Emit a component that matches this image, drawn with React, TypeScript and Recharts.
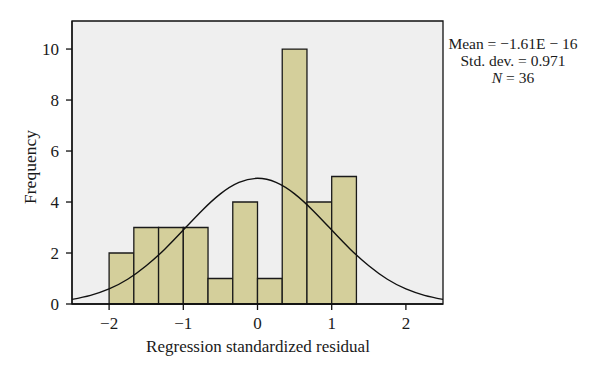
import React from "react";
import { ComposedChart, Line, XAxis, YAxis, CartesianGrid, ReferenceArea } from "recharts";

const binLeft = [-2, -1.6667, -1.3333, -1, -0.6667, -0.3333, 0, 0.3333, 0.6667, 1];
const binRight = [-1.6667, -1.3333, -1, -0.6667, -0.3333, 0, 0.3333, 0.6667, 1, 1.3333];
const frequencies = [2, 3, 3, 3, 1, 4, 1, 10, 4, 5];

const curveX = [-2.5, -2.25, -2, -1.75, -1.5, -1.25, -1, -0.75, -0.5, -0.25, 0, 0.25, 0.5, 0.75, 1, 1.25, 1.5, 1.75, 2, 2.25, 2.5];
const curveY = [0.18, 0.34, 0.59, 0.97, 1.5, 2.15, 2.9, 3.66, 4.32, 4.77, 4.93, 4.77, 4.32, 3.66, 2.9, 2.15, 1.5, 0.97, 0.59, 0.34, 0.18];

const xTicks = [-2, -1, 0, 1, 2];
const yTicks = [0, 2, 4, 6, 8, 10];

const statLines = ["Mean = −1.61E − 16", "Std. dev. = 0.971"];

const curveData = curveX.map((x, i) => ({ x, y: curveY[i] }));
const FONT = "'Liberation Serif', 'DejaVu Serif', serif";
const fmt = (v: number) => String(v).replace("-", "−");

const XTick = (props: any) => {
  const { x, y, payload } = props;
  return (
    <text x={x} y={y + 17} textAnchor="middle" fontFamily={FONT} fontSize={17} fill="#1a1a1a">
      {fmt(payload.value)}
    </text>
  );
};

const YTick = (props: any) => {
  const { x, y, payload } = props;
  return (
    <text x={x - 5} y={y + 5.5} textAnchor="end" fontFamily={FONT} fontSize={17} fill="#1a1a1a">
      {fmt(payload.value)}
    </text>
  );
};

export default function App() {
  return (
    <div style={{ position: "absolute", left: 0, top: 0, width: 600, height: 378, background: "#fff", fontFamily: FONT }}>
      <ComposedChart width={600} height={378} data={curveData} margin={{ top: 21, right: 157, left: 12, bottom: 44 }}>
        <CartesianGrid fill="#efefef" stroke="none" />
        {binLeft.map((l, i) => (
          <ReferenceArea
            key={i}
            x1={l}
            x2={binRight[i]}
            y1={0}
            y2={frequencies[i]}
            fill="#d4cf9b"
            fillOpacity={1}
            stroke="#1a1a1a"
            strokeWidth={1.3}
            ifOverflow="visible"
          />
        ))}
        <ReferenceArea x1={-2.5} x2={2.5} y1={0} y2={11.1} fill="none" stroke="#111" strokeWidth={1.3} ifOverflow="visible" />
        <XAxis
          dataKey="x"
          type="number"
          domain={[-2.5, 2.5]}
          ticks={xTicks}
          allowDataOverflow
          height={30}
          tickSize={6}
          axisLine={{ stroke: "#111", strokeWidth: 1.3 }}
          tickLine={{ stroke: "#111", strokeWidth: 1.3 }}
          tick={<XTick />}
        />
        <YAxis
          type="number"
          domain={[0, 11.1]}
          ticks={yTicks}
          allowDataOverflow
          width={60}
          tickSize={6}
          axisLine={{ stroke: "#111", strokeWidth: 1.3 }}
          tickLine={{ stroke: "#111", strokeWidth: 1.3 }}
          tick={<YTick />}
        />
        <Line dataKey="y" type="natural" stroke="#111" strokeWidth={1.4} dot={false} isAnimationActive={false} />
      </ComposedChart>
      <div style={{ position: "absolute", left: 108, width: 300, top: 337, textAlign: "center", fontSize: 17, color: "#1a1a1a", whiteSpace: "nowrap" }}>
        Regression standardized residual
      </div>
      <div
        style={{
          position: "absolute",
          left: 30,
          top: 167,
          transform: "translate(-50%, -50%) rotate(-90deg)",
          fontSize: 17.5,
          color: "#1a1a1a",
          whiteSpace: "nowrap",
        }}
      >
        Frequency
      </div>
      <div style={{ position: "absolute", left: 443, width: 140, top: 35, textAlign: "center", fontSize: 15.5, lineHeight: "17px", color: "#1a1a1a", whiteSpace: "nowrap" }}>
        <div>{statLines[0]}</div>
        <div>{statLines[1]}</div>
        <div>
          <i>N</i> = 36
        </div>
      </div>
    </div>
  );
}
